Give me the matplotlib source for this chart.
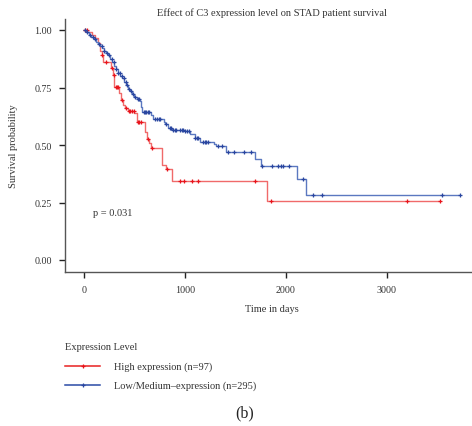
import numpy as np
import matplotlib
matplotlib.use("Agg")
import matplotlib.pyplot as plt
from matplotlib.lines import Line2D

# Kaplan-Meier step estimates (time in days, survival after each drop)
high_t = [0, 30, 80, 105, 140, 160, 175, 190, 270, 285, 300, 345, 365, 385, 410, 440, 500, 520, 605, 625, 640, 660, 775, 810, 870, 1815]
high_s = [1.0, 0.99, 0.98, 0.965, 0.943, 0.907, 0.892, 0.863, 0.834, 0.805, 0.754, 0.725, 0.696, 0.674, 0.662, 0.650, 0.638, 0.600, 0.558, 0.528, 0.507, 0.488, 0.412, 0.397, 0.344, 0.256]
high_end = 3528
high_censor = [10, 25, 180, 220, 280, 295, 315, 325, 335, 380, 420, 445, 460, 480, 495, 530, 545, 560, 630, 670, 820,
               950, 993, 1072, 1132, 1696, 1848, 3201, 3528]

low_t = [0, 20, 45, 70, 95, 115, 135, 160, 180, 200, 220, 240, 260, 280, 300, 320, 340, 360, 380, 400, 420, 440, 460,
         480, 500, 525, 550, 565, 575, 660, 680, 790, 805, 830, 870, 1000, 1050, 1095, 1150, 1290, 1305, 1410, 1690,
         1755, 2105, 2200]
low_s = [1.0, 0.99, 0.98, 0.97, 0.96, 0.95, 0.94, 0.93, 0.92, 0.91, 0.90, 0.89, 0.875, 0.86, 0.845, 0.83, 0.815, 0.80,
         0.79, 0.775, 0.76, 0.745, 0.735, 0.72, 0.71, 0.70, 0.69, 0.665, 0.645, 0.63, 0.615, 0.60, 0.59, 0.575, 0.565,
         0.56, 0.55, 0.53, 0.515, 0.505, 0.495, 0.47, 0.441, 0.409, 0.351, 0.283]
low_end = 3726
low_censor = [10, 30, 55, 85, 110, 150, 175, 200, 230, 250, 275, 295, 320, 340, 355, 375, 395, 415, 430, 450, 470, 490,
              510, 530, 545, 590, 600, 615, 630, 645, 700, 720, 740, 755, 815, 850, 865, 885, 900, 915, 955, 970, 985,
              1005, 1020, 1040, 1100, 1115, 1125, 1175, 1195, 1210, 1230, 1330, 1363, 1429, 1489, 1587, 1650, 1766,
              1865, 1924, 1947, 1967, 2033, 2172, 2270, 2359, 3547, 3726]

group_labels = ["High expression (n=97)", "Low/Medium\u2013expression (n=295)"]
x_ticks = [0, 1000, 2000, 3000]
y_ticks = [0.0, 0.25, 0.5, 0.75, 1.0]
p_text = "p = 0.031"

RED_LINE, RED_MARK = "#f06a6a", "#e8141c"
BLUE_LINE, BLUE_MARK = "#5b78c0", "#2a46a0"
TXT = "#333333"
plt.rcParams["font.family"] = ["Liberation Serif", "DejaVu Serif"]

W, H = 472, 427
fig = plt.figure(figsize=(W / 100, H / 100), dpi=100)
ax = fig.add_axes([65 / W, (H - 272.5) / H, (W - 65) / W, (272.5 - 19.5) / H])


def draw_curve(t, s, end, censor, lc, mc):
    tt = list(t) + [end]
    ss = list(s) + [s[-1]]
    ax.step(tt, ss, where="post", color=lc, lw=1.0, zorder=2)
    c = np.asarray(censor)
    idx = np.searchsorted(np.asarray(t), c, side="right") - 1
    cy = np.asarray(s)[idx]
    ax.plot(c, cy, ls="none", marker="+", ms=3.4, mew=0.9, color=mc, zorder=3)


draw_curve(high_t, high_s, high_end, high_censor, RED_LINE, RED_MARK)
draw_curve(low_t, low_s, low_end, low_censor, BLUE_LINE, BLUE_MARK)

ax.set_xlim(-188, -188 + 407 / 0.101)
ax.set_ylim(-0.05, 1.05)
ax.set_xticks(x_ticks)
ax.set_yticks(y_ticks)
ax.set_xticklabels([str(v) for v in x_ticks])
ax.set_yticklabels([f"{v:.2f}" for v in y_ticks])
for side in ("top", "right"):
    ax.spines[side].set_visible(False)
for side in ("left", "bottom"):
    ax.spines[side].set_color("#555555")
    ax.spines[side].set_linewidth(1.0)
ax.tick_params(length=4.5, width=1.0, color="#222222", labelsize=7.2, labelcolor=TXT, pad=5)

ax.text(89, 0.205, p_text, fontsize=7.5, color=TXT, ha="left", va="center")

fig.text(272 / W, 1 - 13 / H, "Effect of C3 expression level on STAD patient survival",
         ha="center", va="center", fontsize=7.5, color=TXT)
fig.text(272 / W, 1 - 310 / H, "Time in days", ha="center", va="center", fontsize=7.5, color=TXT)
fig.text(14 / W, 1 - 146 / H, "Survival probability", ha="center", va="center", rotation=90,
         fontsize=7.5, color=TXT)

# legend block below the panel
fig.text(65 / W, 1 - 348 / H, "Expression Level", ha="left", va="center", fontsize=7.5, color=TXT)
for i, (lab, lc, mc) in enumerate(zip(group_labels, ["#e82020", "#2a4aa6"], [RED_MARK, BLUE_MARK])):
    y = 1 - (367 + 19 * i) / H
    fig.add_artist(Line2D([65 / W, 100 / W], [y, y], color=lc, lw=1.1, transform=fig.transFigure))
    fig.add_artist(Line2D([82.5 / W], [y], marker="+", ms=3.0, mew=0.9, color=mc, transform=fig.transFigure))
    fig.text(114 / W, y, lab, ha="left", va="center", fontsize=7.5, color=TXT)

fig.text(245 / W, 1 - 413 / H, "(b)", ha="center", va="center", fontsize=11.5, color="#222222")

fig.savefig("out.png", dpi=100)
